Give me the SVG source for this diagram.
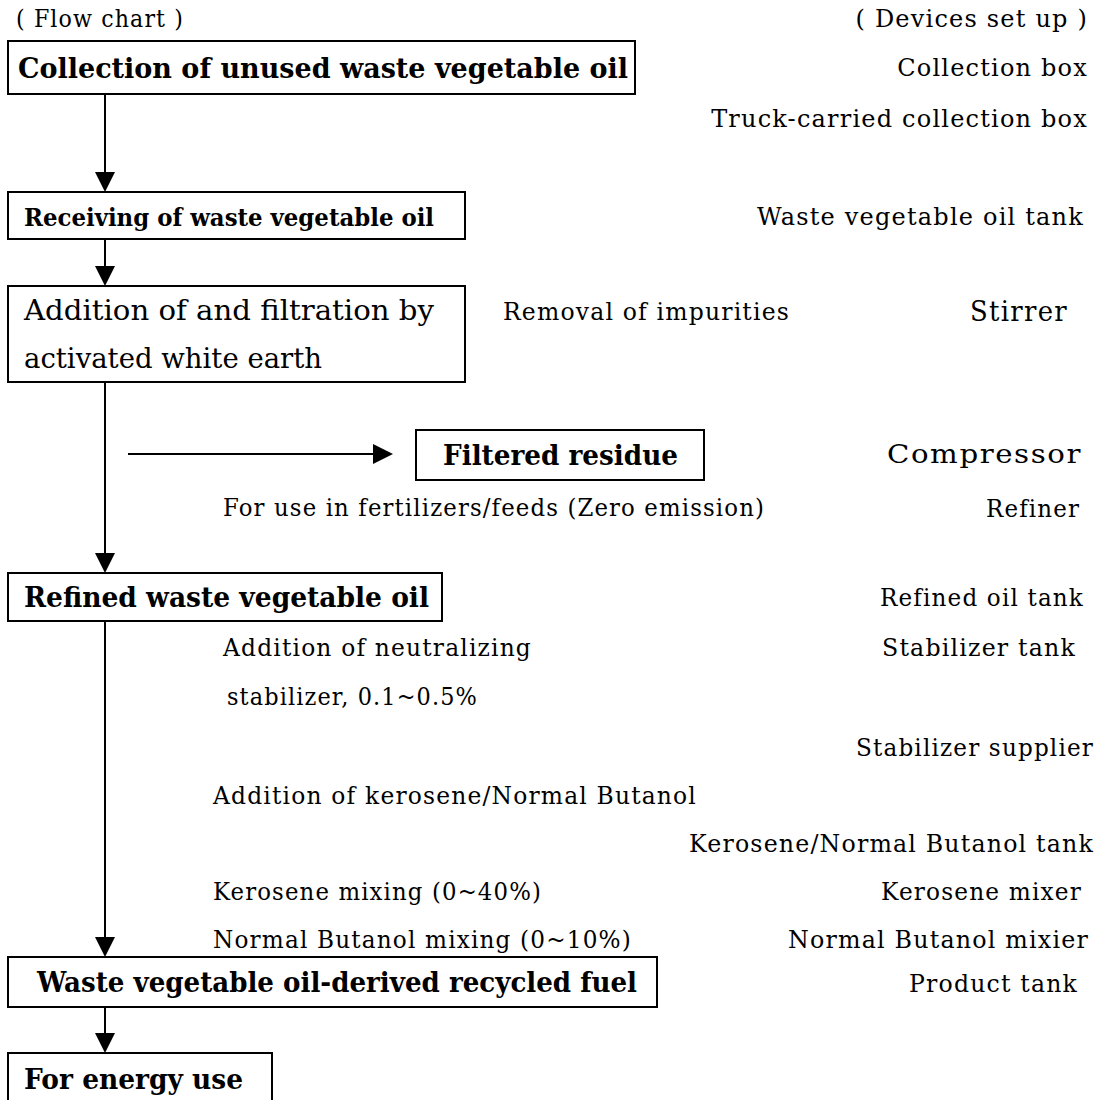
<svg xmlns="http://www.w3.org/2000/svg" width="1102" height="1100" viewBox="0 0 1102 1100">
<style>
text{font-family:"DejaVu Serif","Liberation Serif",serif;fill:#000;}
.t{font-size:24px;letter-spacing:1.2px;}
.r{text-anchor:end;}
.big{font-size:28px;letter-spacing:1.4px;}
.b{font-weight:bold;font-size:28px;}
.box{fill:#fff;stroke:#000;stroke-width:2;}
.ln{stroke:#000;stroke-width:2;fill:none;}
</style>
<defs>
<marker id="ah" viewBox="0 0 20 20" refX="0" refY="10" markerWidth="20" markerHeight="20" markerUnits="userSpaceOnUse" orient="auto">
<path d="M0,0 L20,10 L0,20 z" fill="#000"/>
</marker>
</defs>
<rect width="1102" height="1100" fill="#fff"/>

<g id="connectors">
<line class="ln" x1="105" y1="94" x2="105" y2="172" marker-end="url(#ah)"/>
<line class="ln" x1="105" y1="239" x2="105" y2="266" marker-end="url(#ah)"/>
<line class="ln" x1="105" y1="382" x2="105" y2="553" marker-end="url(#ah)"/>
<line class="ln" x1="128" y1="454" x2="373" y2="454" marker-end="url(#ah)"/>
<line class="ln" x1="105" y1="621" x2="105" y2="937" marker-end="url(#ah)"/>
<line class="ln" x1="105" y1="1007" x2="105" y2="1033" marker-end="url(#ah)"/>
</g>

<g id="headers">
<text class="t" x="16" y="27" textLength="168" lengthAdjust="spacingAndGlyphs">( Flow chart )</text>
<text class="t r" x="1088" y="27">( Devices set up )</text>
</g>

<g id="n1">
<rect class="box" x="8" y="41" width="627" height="53"/>
<text class="b" x="18" y="78" textLength="610" lengthAdjust="spacingAndGlyphs">Collection of unused waste vegetable oil</text>
</g>
<g id="n2">
<rect class="box" x="8" y="192" width="457" height="47"/>
<text class="b" style="font-size:25px" x="24" y="226" textLength="410" lengthAdjust="spacingAndGlyphs">Receiving of waste vegetable oil</text>
</g>
<g id="n3">
<rect class="box" x="8" y="286" width="457" height="96"/>
<text style="font-size:28px" x="24" y="320" textLength="410" lengthAdjust="spacingAndGlyphs">Addition of and filtration by</text>
<text style="font-size:28px" x="24" y="368" textLength="298" lengthAdjust="spacingAndGlyphs">activated white earth</text>
</g>
<g id="n4">
<rect class="box" x="416" y="430" width="288" height="50"/>
<text class="b" x="443" y="465" textLength="235" lengthAdjust="spacingAndGlyphs">Filtered residue</text>
</g>
<g id="n5">
<rect class="box" x="8" y="573" width="434" height="48"/>
<text class="b" x="24" y="607" textLength="405" lengthAdjust="spacingAndGlyphs">Refined waste vegetable oil</text>
</g>
<g id="n6">
<rect class="box" x="8" y="957" width="649" height="50"/>
<text class="b" x="37" y="992" textLength="600" lengthAdjust="spacingAndGlyphs">Waste vegetable oil-derived recycled fuel</text>
</g>
<g id="n7">
<rect class="box" x="8" y="1053" width="264" height="60"/>
<text class="b" x="24" y="1089" textLength="219" lengthAdjust="spacingAndGlyphs">For energy use</text>
</g>

<g id="notes">
<text class="t" x="503" y="320" textLength="287" lengthAdjust="spacingAndGlyphs">Removal of impurities</text>
<text class="t" x="223" y="516" textLength="542" lengthAdjust="spacingAndGlyphs">For use in fertilizers/feeds (Zero emission)</text>
<text class="t" x="223" y="656" textLength="309" lengthAdjust="spacingAndGlyphs">Addition of neutralizing</text>
<text class="t" x="227" y="705" textLength="251" lengthAdjust="spacingAndGlyphs">stabilizer, 0.1~0.5%</text>
<text class="t" x="213" y="804" textLength="484" lengthAdjust="spacingAndGlyphs">Addition of kerosene/Normal Butanol</text>
<text class="t" x="213" y="900" textLength="329" lengthAdjust="spacingAndGlyphs">Kerosene mixing (0~40%)</text>
<text class="t" x="213" y="948" textLength="419" lengthAdjust="spacingAndGlyphs">Normal Butanol mixing (0~10%)</text>
</g>

<g id="devices">
<text class="t r" x="1088" y="76">Collection box</text>
<text class="t r" x="1088" y="127">Truck-carried collection box</text>
<text class="t r" x="1084" y="225">Waste vegetable oil tank</text>
<text class="big r" x="1068" y="321" textLength="98" lengthAdjust="spacingAndGlyphs">Stirrer</text>
<text class="big r" style="font-size:26px" x="1082" y="463" textLength="195" lengthAdjust="spacingAndGlyphs">Compressor</text>
<text class="t r" x="1080" y="517" textLength="94" lengthAdjust="spacingAndGlyphs">Refiner</text>
<text class="t r" x="1084" y="606" textLength="204" lengthAdjust="spacingAndGlyphs">Refined oil tank</text>
<text class="t r" x="1076" y="656" textLength="194" lengthAdjust="spacingAndGlyphs">Stabilizer tank</text>
<text class="t r" x="1094" y="756" textLength="238" lengthAdjust="spacingAndGlyphs">Stabilizer supplier</text>
<text class="t r" x="1094" y="852" textLength="405" lengthAdjust="spacingAndGlyphs">Kerosene/Normal Butanol tank</text>
<text class="t r" x="1082" y="900" textLength="201" lengthAdjust="spacingAndGlyphs">Kerosene mixer</text>
<text class="t r" x="1089" y="948" textLength="301" lengthAdjust="spacingAndGlyphs">Normal Butanol mixier</text>
<text class="t r" x="1078" y="992" textLength="169" lengthAdjust="spacingAndGlyphs">Product tank</text>
</g>
</svg>
